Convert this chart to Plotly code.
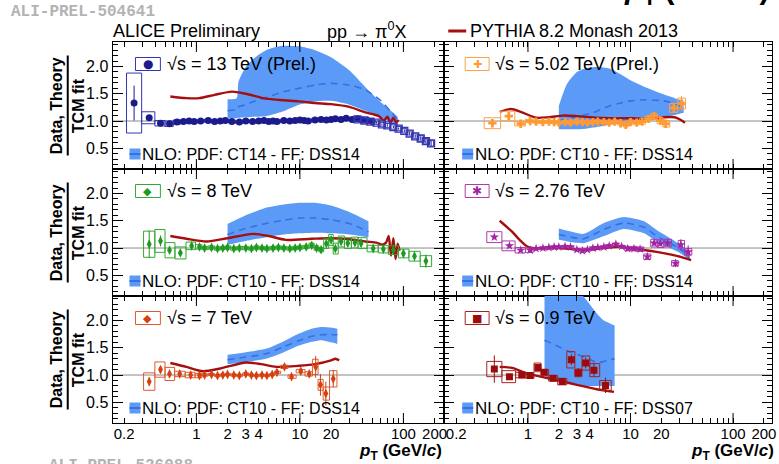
import plotly.graph_objects as go

W, H = 779, 464
FONT = "Liberation Sans, Arial, Helvetica, sans-serif"

# ---------------- data: ratio to TCM fit ----------------
# 13 TeV, filled circles
pt13 = [0.25, 0.35, 0.45, 0.55, 0.65, 0.75, 0.85, 0.95, 1.1, 1.3,
        1.5, 1.7, 1.9, 2.2, 2.6, 3.0, 3.5, 4.0, 4.5, 5.0,
        5.5, 6.0, 7.0, 8.0, 9.0, 10.0, 11.0, 12.0, 14.0, 16.0,
        18.0, 20.0, 22.0, 25.0, 28.0, 32.0, 36.0, 40.0, 45.0, 50.0]
r13 = [1.33, 1.06, 0.96, 0.95, 0.98, 0.99, 1.00, 0.99, 1.00, 1.01,
       0.99, 1.00, 1.01, 0.99, 0.98, 1.00, 0.99, 1.00, 1.01, 0.99,
       1.00, 0.99, 1.01, 1.00, 1.01, 1.02, 1.01, 1.00, 1.02, 1.03,
       1.02, 1.03, 1.04, 1.03, 1.05, 1.03, 1.04, 1.02, 1.01, 0.99]
stat13 = [0.32, 0.04, 0.02, 0.02, 0.01, 0.01, 0.01, 0.01, 0.01, 0.01,
          0.01, 0.01, 0.01, 0.01, 0.01, 0.01, 0.01, 0.01, 0.01, 0.01,
          0.01, 0.01, 0.01, 0.01, 0.01, 0.015, 0.015, 0.015, 0.015, 0.015,
          0.02, 0.02, 0.02, 0.025, 0.03, 0.03, 0.035, 0.04, 0.045, 0.05]
sys13 = [0.55, 0.11, 0.05, 0.05, 0.04, 0.03, 0.03, 0.03, 0.025, 0.025,
         0.025, 0.025, 0.025, 0.025, 0.025, 0.025, 0.025, 0.025, 0.025, 0.025,
         0.025, 0.025, 0.025, 0.025, 0.025, 0.025, 0.025, 0.025, 0.03, 0.03,
         0.03, 0.03, 0.03, 0.03, 0.03, 0.03, 0.035, 0.035, 0.035, 0.035]
# 13 TeV, high-pT reconstruction (open squares)
pt13h = [36.0, 42.0, 48.0, 55.0, 62.0, 70.0, 80.0, 90.0, 102.0, 115.0, 130.0, 147.0, 165.0, 185.0]
r13h = [1.03, 1.01, 0.99, 0.97, 0.94, 0.92, 0.89, 0.86, 0.82, 0.77, 0.72, 0.68, 0.63, 0.59]
stat13h = [0.01, 0.01, 0.01, 0.015, 0.015, 0.02, 0.02, 0.02, 0.025, 0.03, 0.03, 0.035, 0.04, 0.05]
sys13h = [0.03, 0.03, 0.03, 0.03, 0.035, 0.035, 0.04, 0.04, 0.04, 0.045, 0.045, 0.05, 0.05, 0.05]

# 5.02 TeV
pt5 = [0.45, 0.65, 0.85, 1.05, 1.2, 1.4, 1.6, 1.8, 2.0, 2.3,
       2.6, 3.0, 3.4, 3.8, 4.3, 4.8, 5.5, 6.2, 7.0, 8.0,
       9.0, 10.0, 11.5, 13.0, 15.0, 17.0, 19.5, 22.0, 26.5, 31.5]
r5 = [0.96, 1.09, 0.95, 1.00, 0.99, 0.98, 0.99, 0.98, 0.97, 0.98,
      0.97, 0.99, 0.98, 0.97, 0.98, 0.99, 0.98, 0.97, 0.99, 0.96,
      0.93, 0.98, 0.97, 0.99, 1.04, 1.09, 1.01, 0.95, 1.24, 1.32]
stat5 = [0.03, 0.03, 0.02, 0.01, 0.01, 0.01, 0.01, 0.01, 0.01, 0.01,
         0.01, 0.01, 0.01, 0.01, 0.01, 0.01, 0.01, 0.01, 0.01, 0.01,
         0.02, 0.02, 0.03, 0.03, 0.04, 0.05, 0.05, 0.06, 0.08, 0.14]
sys5 = [0.10, 0.09, 0.04, 0.03, 0.03, 0.03, 0.03, 0.03, 0.03, 0.03,
        0.03, 0.03, 0.03, 0.03, 0.03, 0.03, 0.03, 0.03, 0.03, 0.03,
        0.04, 0.04, 0.04, 0.05, 0.05, 0.05, 0.06, 0.06, 0.08, 0.10]

# 8 TeV
pt8 = [0.35, 0.45, 0.55, 0.70, 0.90, 1.07, 1.2, 1.4, 1.6, 1.8,
       2.0, 2.3, 2.6, 3.0, 3.4, 3.8, 4.3, 4.8, 5.5, 6.2,
       7.0, 8.0, 9.0, 10.0, 11.5, 13.0, 14.5, 16.0, 18.0, 20.0,
       22.0, 25.0, 29.0, 34.0, 39.0, 51.0, 64.0, 80.0, 100.0, 128.0, 165.0]
r8 = [1.07, 1.13, 0.96, 0.91, 1.04, 1.02, 1.00, 1.01, 0.99, 1.00,
      1.01, 0.99, 1.00, 1.00, 0.99, 1.01, 1.00, 0.99, 1.00, 1.01,
      1.00, 0.99, 1.00, 1.01, 1.02, 1.05, 1.00, 0.97, 1.08, 1.15,
      0.99, 1.12, 1.09, 1.10, 1.09, 0.99, 0.98, 0.96, 0.90, 0.85, 0.76]
stat8 = [0.25, 0.10, 0.06, 0.05, 0.04, 0.03, 0.02, 0.02, 0.02, 0.02,
         0.02, 0.02, 0.02, 0.02, 0.02, 0.02, 0.02, 0.02, 0.02, 0.02,
         0.02, 0.02, 0.02, 0.02, 0.02, 0.03, 0.03, 0.03, 0.04, 0.04,
         0.05, 0.05, 0.06, 0.06, 0.07, 0.05, 0.06, 0.07, 0.08, 0.09, 0.12]
sys8 = [0.24, 0.21, 0.14, 0.11, 0.07, 0.04, 0.03, 0.03, 0.03, 0.03,
        0.03, 0.03, 0.03, 0.03, 0.03, 0.03, 0.03, 0.03, 0.03, 0.03,
        0.03, 0.03, 0.03, 0.03, 0.03, 0.04, 0.04, 0.04, 0.09, 0.10,
        0.10, 0.10, 0.10, 0.10, 0.10, 0.06, 0.07, 0.08, 0.08, 0.09, 0.10]

# 2.76 TeV
pt276 = [0.47, 0.66, 0.85, 1.05, 1.2, 1.4, 1.6, 1.8, 2.0, 2.3,
         2.6, 3.0, 3.4, 3.8, 4.3, 4.8, 5.5, 6.2, 7.2, 8.2,
         9.4, 10.8, 12.4, 14.6, 17.0, 19.5, 23.0, 27.5, 31.0, 36.5]
r276 = [1.20, 1.04, 0.96, 0.96, 0.99, 1.00, 1.01, 1.02, 1.02, 1.03,
        1.02, 0.97, 0.95, 0.97, 1.00, 1.01, 1.02, 1.04, 1.07, 1.03,
        0.99, 0.99, 0.98, 0.84, 1.09, 1.08, 1.09, 0.72, 1.06, 0.93]
stat276 = [0.04, 0.03, 0.02, 0.02, 0.01, 0.01, 0.01, 0.01, 0.01, 0.01,
           0.01, 0.01, 0.01, 0.01, 0.01, 0.015, 0.015, 0.015, 0.015, 0.015,
           0.02, 0.02, 0.03, 0.04, 0.05, 0.05, 0.06, 0.07, 0.10, 0.12]
sys276 = [0.10, 0.09, 0.05, 0.04, 0.02, 0.02, 0.02, 0.02, 0.02, 0.02,
          0.02, 0.02, 0.02, 0.02, 0.02, 0.02, 0.02, 0.02, 0.02, 0.02,
          0.04, 0.04, 0.04, 0.05, 0.07, 0.07, 0.07, 0.05, 0.08, 0.06]

# 7 TeV
pt7 = [0.35, 0.45, 0.55, 0.69, 0.88, 1.07, 1.2, 1.4, 1.6, 1.8,
       2.0, 2.3, 2.6, 3.0, 3.4, 3.8, 4.3, 4.8, 5.4, 6.0,
       7.1, 8.3, 10.2, 12.3, 14.2, 15.8, 17.8, 21.0]
r7 = [0.88, 1.10, 1.02, 1.02, 1.00, 0.99, 1.00, 1.01, 0.99, 1.00,
      1.01, 1.00, 0.99, 1.02, 1.00, 0.99, 1.00, 0.99, 1.01, 1.05,
      1.15, 0.97, 1.07, 1.02, 1.15, 0.82, 0.66, 0.93]
stat7 = [0.08, 0.05, 0.04, 0.03, 0.03, 0.02, 0.01, 0.01, 0.01, 0.01,
         0.01, 0.01, 0.01, 0.01, 0.01, 0.01, 0.01, 0.01, 0.02, 0.02,
         0.03, 0.03, 0.04, 0.05, 0.20, 0.20, 0.22, 0.15]
sys7 = [0.16, 0.14, 0.12, 0.05, 0.05, 0.04, 0.02, 0.02, 0.02, 0.02,
        0.02, 0.02, 0.02, 0.02, 0.02, 0.02, 0.02, 0.02, 0.02, 0.02,
        0.03, 0.03, 0.03, 0.04, 0.14, 0.10, 0.12, 0.15]

# 0.9 TeV
pt09 = [0.47, 0.66, 0.87, 1.05, 1.25, 1.44, 1.76, 2.16, 2.65, 3.1, 3.65, 4.4, 5.7]
r09 = [1.11, 0.97, 1.00, 0.99, 1.14, 1.05, 0.94, 0.88, 1.28, 1.04, 1.22, 1.09, 0.81]
stat09 = [0.25, 0.05, 0.03, 0.03, 0.04, 0.04, 0.04, 0.05, 0.10, 0.08, 0.10, 0.12, 0.14]
sys09 = [0.14, 0.11, 0.05, 0.05, 0.08, 0.05, 0.05, 0.06, 0.15, 0.07, 0.13, 0.12, 0.09]

# ---------------- NLO pQCD bands (lower, central, upper) ----------------
nlo13_pt = [2.0, 2.45, 2.55, 3.0, 3.6, 4.7, 6.7, 9.8, 14.0, 20.0, 30.0, 43.0, 60.0, 75.0, 88.0]
nlo13_hi = [1.40, 1.42, 1.72, 1.99, 2.15, 2.30, 2.38, 2.37, 2.30, 2.17, 1.93, 1.62, 1.35, 1.20, 1.08]
nlo13_lo = [1.05, 1.05, 1.06, 1.07, 1.08, 1.09, 1.17, 1.30, 1.36, 1.37, 1.30, 1.19, 1.07, 0.98, 0.92]
nlo13_mid = [1.19, 1.21, 1.26, 1.30, 1.36, 1.43, 1.53, 1.60, 1.66, 1.69, 1.66, 1.57, 1.38, 1.18, 1.02]

nlo5_pt = [2.0, 2.4, 3.0, 3.7, 4.7, 6.3, 8.0, 10.0, 14.0, 21.0, 27.0, 33.0]
nlo5_hi = [1.28, 1.68, 1.90, 1.97, 1.99, 1.96, 1.86, 1.75, 1.62, 1.49, 1.42, 1.37]
nlo5_lo = [0.85, 0.85, 0.85, 0.86, 0.89, 0.93, 0.96, 0.99, 1.03, 1.07, 1.11, 1.15]
nlo5_mid = [1.00, 1.04, 1.08, 1.12, 1.18, 1.28, 1.33, 1.37, 1.39, 1.37, 1.32, 1.26]

nlo8_pt = [2.0, 3.0, 4.7, 7.0, 10.0, 14.0, 20.0, 30.0, 46.0]
nlo8_hi = [1.44, 1.60, 1.74, 1.80, 1.83, 1.83, 1.78, 1.66, 1.49]
nlo8_lo = [1.06, 1.13, 1.20, 1.25, 1.27, 1.28, 1.27, 1.25, 1.20]
nlo8_mid = [1.25, 1.36, 1.45, 1.51, 1.55, 1.55, 1.52, 1.45, 1.30]

nlo276_pt = [2.0, 2.8, 3.5, 5.5, 8.6, 13.6, 18.0, 29.0, 38.0]
nlo276_hi = [1.36, 1.29, 1.26, 1.46, 1.57, 1.49, 1.33, 1.09, 0.93]
nlo276_lo = [1.15, 1.10, 1.09, 1.22, 1.35, 1.27, 1.12, 0.93, 0.78]
nlo276_mid = [1.25, 1.19, 1.17, 1.34, 1.46, 1.38, 1.22, 1.01, 0.85]

nlo7_pt = [2.0, 3.0, 4.7, 7.0, 9.8, 13.0, 16.0, 20.0, 23.0]
nlo7_hi = [1.37, 1.42, 1.48, 1.62, 1.76, 1.85, 1.88, 1.87, 1.85]
nlo7_lo = [1.20, 1.24, 1.30, 1.42, 1.54, 1.61, 1.64, 1.60, 1.57]
nlo7_mid = [1.28, 1.33, 1.39, 1.52, 1.63, 1.71, 1.74, 1.74, 1.74]

nlo09_pt = [1.45, 2.0, 2.6, 3.1, 3.7, 4.7, 5.5, 7.0]
nlo09_hi = [2.60, 2.60, 2.60, 2.55, 2.38, 2.13, 2.00, 1.91]
nlo09_lo = [0.98, 0.90, 0.84, 0.81, 0.80, 0.80, 0.80, 0.80]
nlo09_mid = [1.64, 1.52, 1.42, 1.37, 1.32, 1.23, 1.25, 1.30]

# ---------------- PYTHIA 8.2 Monash 2013 ----------------
py13_pt = [0.56, 0.8, 1.07, 1.5, 2.2, 3.0, 4.7, 7.0, 9.8, 14.0, 20.0, 30.0, 43.0, 52.0, 58.0, 65.0, 70.0, 75.0, 80.0, 85.0, 90.0]
py13_r = [1.45, 1.42, 1.42, 1.48, 1.54, 1.50, 1.41, 1.38, 1.36, 1.33, 1.31, 1.26, 1.16, 1.12, 1.09, 1.01, 1.08, 0.97, 1.06, 0.98, 1.02]
py5_pt = [0.53, 0.68, 0.85, 1.2, 1.6, 2.2, 3.0, 4.7, 7.0, 10.0, 15.0, 21.0, 27.0, 31.0, 34.0]
py5_r = [1.17, 1.22, 1.17, 1.06, 1.07, 1.10, 1.09, 1.06, 1.05, 1.05, 1.04, 1.07, 1.07, 1.02, 0.97]
py8_pt = [0.56, 0.8, 1.25, 2.0, 3.5, 5.0, 7.3, 13.0, 20.0, 30.0, 43.0, 55.0, 62.0, 68.0, 72.0, 76.0, 80.0, 84.0, 88.0, 92.0]
py8_r = [1.22, 1.17, 1.12, 1.18, 1.26, 1.22, 1.15, 1.17, 1.18, 1.16, 1.12, 1.10, 1.06, 1.10, 1.22, 0.86, 1.18, 0.80, 1.08, 0.95]
py276_pt = [0.53, 0.7, 0.85, 1.0, 1.3, 2.0, 3.0, 4.0, 5.5, 8.0, 10.0, 14.0, 18.0, 25.0, 32.0, 39.0]
py276_r = [1.50, 1.30, 1.13, 1.02, 0.99, 1.00, 0.97, 0.97, 1.00, 1.02, 0.99, 0.96, 0.93, 0.88, 0.83, 0.78]
py7_pt = [0.56, 0.8, 1.15, 1.7, 3.0, 4.2, 5.9, 9.8, 14.0, 20.0, 22.0, 24.0]
py7_r = [1.22, 1.15, 1.07, 1.12, 1.23, 1.20, 1.15, 1.17, 1.20, 1.27, 1.30, 1.27]
py09_pt = [0.53, 0.7, 1.0, 1.5, 2.2, 3.0, 4.7, 6.9]
py09_r = [1.15, 1.13, 1.02, 0.95, 0.88, 0.82, 0.74, 0.69]

# ---------------- axis ticks ----------------
x_tickvals = [0.2, 1, 2, 3, 4, 10, 20, 100, 200]
x_ticktext = ["0.2", "1", "2", "3", "4", "10", "20", "100", "200"]
x_minorvals = [0.3, 0.4, 0.5, 0.6, 0.7, 0.8, 0.9, 5, 6, 7, 8, 9, 30, 40, 50, 60, 70, 80, 90]
x_decades = [1, 10, 100]

# ---------------- styling ----------------
BAND = "#5b9bf7"
BAND_LINE = "#3a6ee3"
PYTHIA = "#a50f0f"

panels = [
    dict(label="√s = 13 TeV (Prel.)", color="#1b1b8c", boxc="#3535b2", size=7, glyph="●", gsize=12,
         data=[(pt13, r13, stat13, sys13, "circle"), (pt13h, r13h, stat13h, sys13h, "square-open")],
         nlo=(nlo13_pt, nlo13_lo, nlo13_mid, nlo13_hi), nlo_text="CT14 - FF: DSS14", py=(py13_pt, py13_r)),
    dict(label="√s = 5.02 TeV (Prel.)", color="#ff9a33", boxc="#ffa040", size=7, glyph="✚", gsize=11,
         data=[(pt5, r5, stat5, sys5, "cross")],
         nlo=(nlo5_pt, nlo5_lo, nlo5_mid, nlo5_hi), nlo_text="CT10 - FF: DSS14", py=(py5_pt, py5_r)),
    dict(label="√s = 8 TeV", color="#1f991f", boxc="#33aa33", size=7, glyph="◆", gsize=11,
         data=[(pt8, r8, stat8, sys8, "diamond-tall")],
         nlo=(nlo8_pt, nlo8_lo, nlo8_mid, nlo8_hi), nlo_text="CT10 - FF: DSS14", py=(py8_pt, py8_r)),
    dict(label="√s = 2.76 TeV", color="#a3229f", boxc="#b03aac", size=7, glyph="✱", gsize=12,
         data=[(pt276, r276, stat276, sys276, "star")],
         nlo=(nlo276_pt, nlo276_lo, nlo276_mid, nlo276_hi), nlo_text="CT10 - FF: DSS14", py=(py276_pt, py276_r)),
    dict(label="√s = 7 TeV", color="#d6400e", boxc="#df5a30", size=7, glyph="◆", gsize=11,
         data=[(pt7, r7, stat7, sys7, "diamond-tall")],
         nlo=(nlo7_pt, nlo7_lo, nlo7_mid, nlo7_hi), nlo_text="CT10 - FF: DSS14", py=(py7_pt, py7_r)),
    dict(label="√s = 0.9 TeV", color="#9b0b0b", boxc="#a82020", size=7, glyph="■", gsize=11,
         data=[(pt09, r09, stat09, sys09, "square")],
         nlo=(nlo09_pt, nlo09_lo, nlo09_mid, nlo09_hi), nlo_text="CT10 - FF: DSS07", py=(py09_pt, py09_r)),
]

# panel frames in pixels
COLS = [(113, 446), (446, 775)]
ROWS = [(42, 169), (169, 296), (296, 423)]
XR = [[-0.81, 2.395], [-0.816, 2.38]]
YR = [0.12, 2.45]


def px(x):
    return x / W


def py(y):
    return 1 - y / H


def bin_edges(p):
    mids = [(a * b) ** 0.5 for a, b in zip(p[:-1], p[1:])]
    lo = [p[0] ** 2 / mids[0]] + mids
    hi = mids + [p[-1] ** 2 / mids[-1]]
    return lo, hi


def box_path(p, v, s):
    lo, hi = bin_edges(p)
    xs, ys = [], []
    for a, b, c, d in zip(lo, hi, v, s):
        xs += [a, b, b, a, a, None]
        ys += [c - d, c - d, c + d, c + d, c - d, None]
    return xs, ys


fig = go.Figure()
shapes = []
annotations = []


def note(x, y, t, size, xanchor="left", yanchor="middle", color="black", angle=0, family=FONT):
    annotations.append(dict(x=px(x), y=py(y), xref="paper", yref="paper", text=t, showarrow=False,
                            xanchor=xanchor, yanchor=yanchor, textangle=angle,
                            font=dict(size=size, color=color, family=family)))


def pline(x0, y0, x1, y1, color, width):
    shapes.append(dict(type="line", xref="paper", yref="paper", x0=px(x0), y0=py(y0), x1=px(x1), y1=py(y1),
                       line=dict(color=color, width=width)))


def prect(x0, y0, x1, y1, line_color, fill="rgba(0,0,0,0)", width=1):
    shapes.append(dict(type="rect", xref="paper", yref="paper", x0=px(x0), y0=py(y1), x1=px(x1), y1=py(y0),
                       line=dict(color=line_color, width=width), fillcolor=fill))


axes = {}
for idx, pan in enumerate(panels):
    r, c = divmod(idx, 2)
    k = idx + 1
    s = "" if k == 1 else str(k)
    xref, yref = "x" + s, "y" + s
    L, R = COLS[c]
    T, B = ROWS[r]

    axes["xaxis" + s] = dict(
        domain=[px(L), px(R)], anchor=yref, type="log", range=XR[c],
        showline=True, linecolor="black", linewidth=1, mirror="allticks",
        ticks="inside", ticklen=5, tickwidth=1, tickcolor="black",
        tickmode="array", tickvals=x_tickvals, ticktext=x_ticktext, showticklabels=(r == 2),
        tickfont=dict(size=15, color="black", family=FONT), ticklabelstandoff=-3,
        minor=dict(tickmode="array", tickvals=x_minorvals, ticks="inside", ticklen=5,
                   tickwidth=1, tickcolor="black"),
        showgrid=False, zeroline=False)
    axes["yaxis" + s] = dict(
        domain=[py(B), py(T)], anchor=xref, range=YR,
        showline=True, linecolor="black", linewidth=1, mirror="allticks",
        ticks="inside", ticklen=10, tickwidth=1, tickcolor="black",
        tick0=0, dtick=0.5, tickformat=".1f", showticklabels=(c == 0),
        tickfont=dict(size=16, color="black", family=FONT),
        minor=dict(dtick=0.1, ticks="inside", ticklen=5, tickwidth=1, tickcolor="black"),
        showgrid=False, zeroline=False)

    # unity reference line
    shapes.append(dict(type="line", xref=xref + " domain", yref=yref, x0=0, x1=1, y0=1, y1=1,
                       line=dict(color="#8a8a8a", width=1), layer="below"))
    # long decade ticks on log axes
    tl = 10 / (B - T)
    for d in x_decades:
        for y0, y1 in ((0, tl), (1 - tl, 1)):
            shapes.append(dict(type="line", xref=xref, yref=yref + " domain", x0=d, x1=d, y0=y0, y1=y1,
                               line=dict(color="black", width=1)))

    # NLO band
    bpt, blo, bmid, bhi = pan["nlo"]
    fig.add_trace(go.Scatter(x=bpt, y=blo, mode="lines", line=dict(width=0, shape="spline", smoothing=0.6),
                             xaxis=xref, yaxis=yref, hoverinfo="skip"))
    fig.add_trace(go.Scatter(x=bpt, y=bhi, mode="lines", fill="tonexty", fillcolor=BAND,
                             line=dict(width=0, shape="spline", smoothing=0.6),
                             xaxis=xref, yaxis=yref, hoverinfo="skip"))
    fig.add_trace(go.Scatter(x=bpt, y=bmid, mode="lines",
                             line=dict(color=BAND_LINE, width=1.6, dash="7px,5px", shape="spline", smoothing=0.6),
                             xaxis=xref, yaxis=yref))

    # PYTHIA curve
    ppt, pr = pan["py"]
    fig.add_trace(go.Scatter(x=ppt, y=pr, mode="lines",
                             line=dict(color=PYTHIA, width=2.4, shape="spline", smoothing=0.7),
                             xaxis=xref, yaxis=yref))

    # measurements: systematic boxes, statistical bars, markers
    for p, v, st, sy, sym in pan["data"]:
        bx, by = box_path(p, v, sy)
        fig.add_trace(go.Scatter(x=bx, y=by, mode="lines", line=dict(color=pan["boxc"], width=1),
                                 xaxis=xref, yaxis=yref, hoverinfo="skip"))
        mk = dict(symbol=sym, size=pan["size"], color=pan["color"], line=dict(width=0, color=pan["color"]))
        if sym.endswith("open"):
            mk = dict(symbol=sym, size=7, color=pan["boxc"], line=dict(width=1.3, color=pan["boxc"]))
        fig.add_trace(go.Scatter(x=p, y=v, mode="markers", marker=mk,
                                 error_y=dict(type="data", array=st, color=pan["color"], thickness=1, width=0),
                                 xaxis=xref, yaxis=yref))

    # panel legend: energy
    if c == 0:
        bl, bw, tx = L + 23, 25, L + 53
    else:
        bl, bw, tx = L + 21, 24, L + 49
    yc = T + 22
    prect(bl, yc - 6.5, bl + bw, yc + 6.5, pan["boxc"], width=1)
    note(bl + bw / 2, yc, pan["glyph"], pan["gsize"], xanchor="center", color=pan["color"],
         family="DejaVu Sans")
    note(tx, yc, pan["label"], 18)

    # panel legend: NLO
    nl = L + 17 if c == 0 else L + 18
    nyc = B - 15
    prect(nl, nyc - 5.5, nl + 11, nyc + 5.5, BAND, fill=BAND, width=0)
    pline(nl, nyc, nl + 11, nyc, BAND_LINE, 2)
    note(nl + 11, nyc, 'NLO: <span style="font-size:16px">PDF: ' + pan["nlo_text"] + "</span>", 17)

# y-axis titles (fraction)
for T, B in ROWS:
    yc = (T + B) / 2
    note(57, yc, "<b>Data, Theory</b>", 16, xanchor="center", angle=-90)
    note(79, yc, "<b>TCM fit</b>", 16, xanchor="center", angle=-90)
    pline(68, yc - 50, 68, yc + 50, "black", 2)

# x-axis titles
ptitle = "<b><i>p</i><sub>T</sub> (GeV/<i>c</i>)</b>"
note(446, 452, ptitle, 17, xanchor="right")
note(779, 452, ptitle, 17, xanchor="right")

# header
note(111, 31, "ALICE Preliminary", 18)
note(326, 31, "pp → π<sup>0</sup>X", 18)
pline(450, 31, 468, 31, PYTHIA, 3)
note(470, 31, "PYTHIA 8.2 Monash 2013", 18)

# preliminary figure identifiers and neighbouring axis title
note(9, 12, "<b>ALI-PREL-504641</b>", 16, color="#b3b3b3", family="Liberation Mono, Courier New, monospace")
note(47, 466, "<b>ALI-PREL-526088</b>", 16, color="#b3b3b3", family="Liberation Mono, Courier New, monospace")
note(775, 11, ptitle, 30, xanchor="right", yanchor="bottom")

fig.update_layout(
    width=W, height=H, margin=dict(l=0, r=0, t=0, b=0),
    paper_bgcolor="white", plot_bgcolor="white", showlegend=False,
    font=dict(family=FONT, color="black"),
    shapes=shapes, annotations=annotations, **axes)

fig.write_html("out.html")
